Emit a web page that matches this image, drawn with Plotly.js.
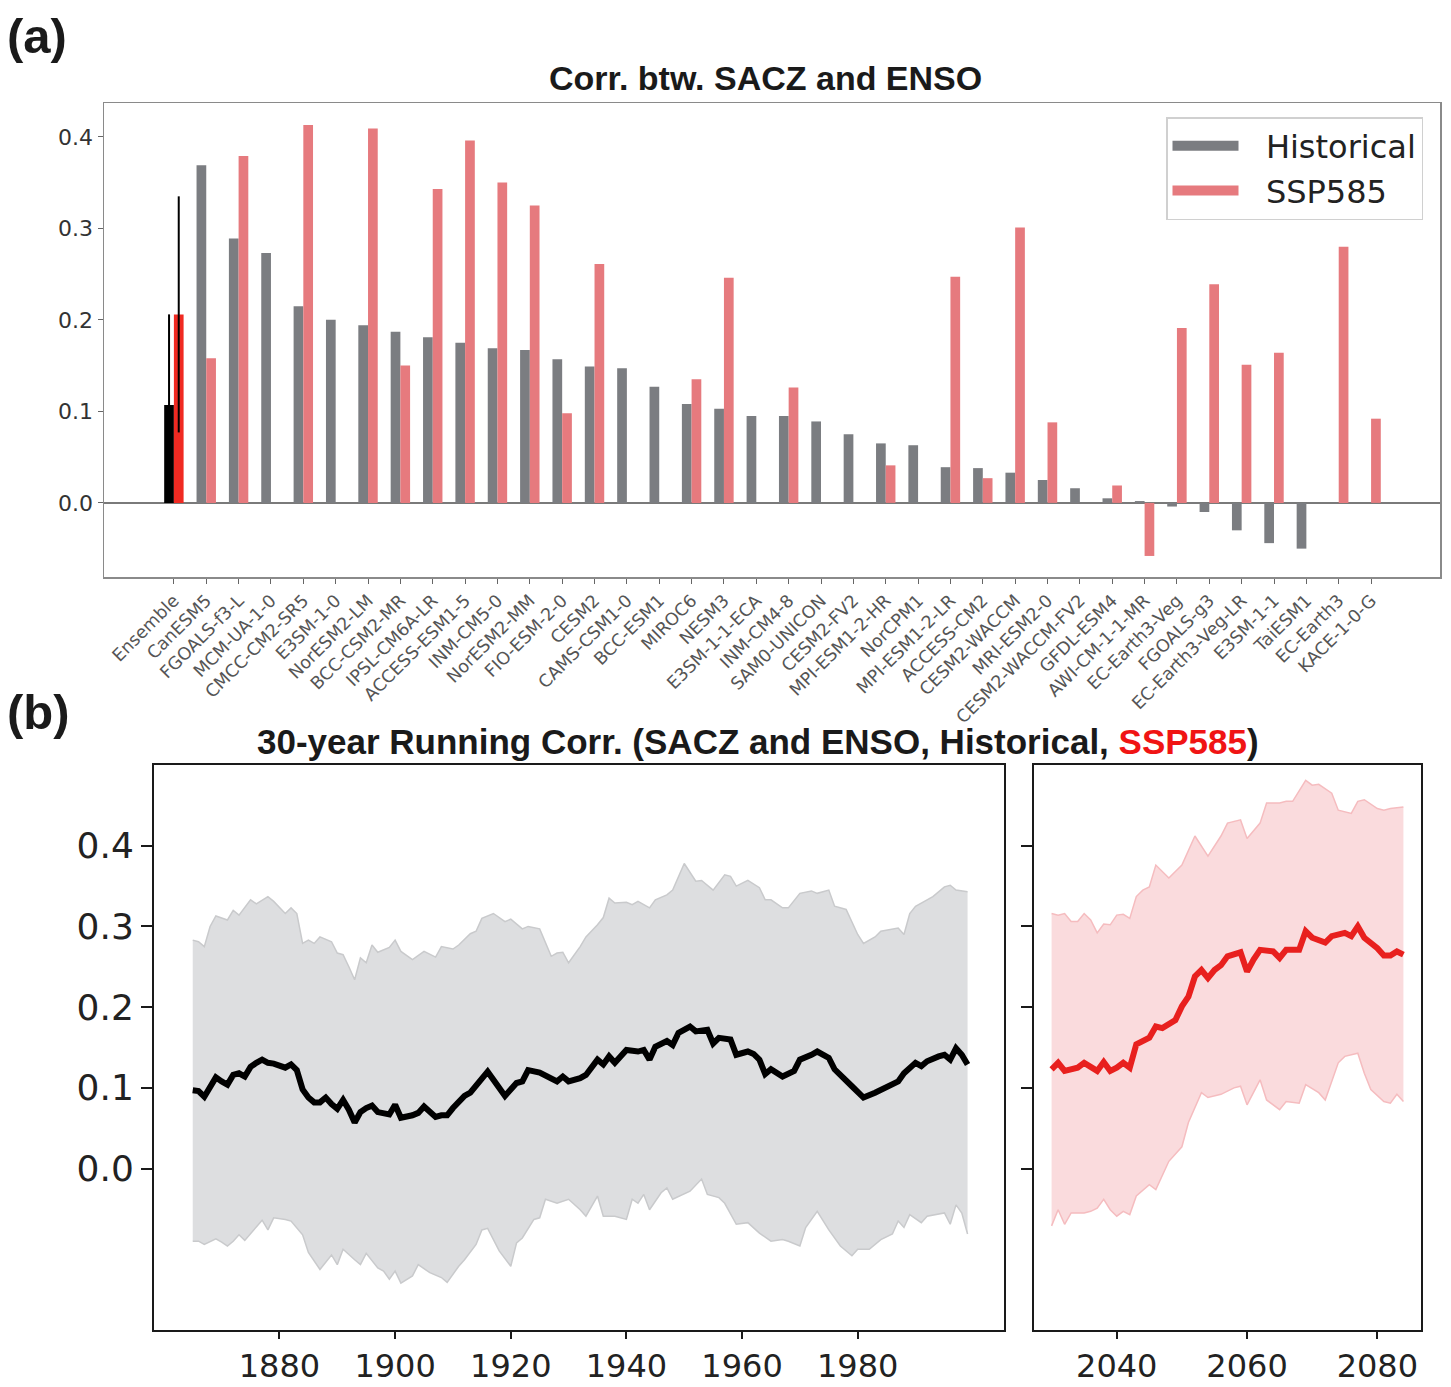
<!DOCTYPE html>
<html>
<head>
<meta charset="utf-8">
<script src="https://cdn.plot.ly/plotly-3.0.1.min.js"></script>
<style>
  html, body { margin: 0; padding: 0; background: #ffffff; }
  #chart { width: 1451px; height: 1387px; }
</style>
</head>
<body>
<div id="chart"></div>
<script>
// ---------------- Panel (a) data ----------------
const models = ["Ensemble","CanESM5","FGOALS-f3-L","MCM-UA-1-0","CMCC-CM2-SR5","E3SM-1-0","NorESM2-LM","BCC-CSM2-MR","IPSL-CM6A-LR","ACCESS-ESM1-5","INM-CM5-0","NorESM2-MM","FIO-ESM-2-0","CESM2","CAMS-CSM1-0","BCC-ESM1","MIROC6","NESM3","E3SM-1-1-ECA","INM-CM4-8","SAM0-UNICON","CESM2-FV2","MPI-ESM1-2-HR","NorCPM1","MPI-ESM1-2-LR","ACCESS-CM2","CESM2-WACCM","MRI-ESM2-0","CESM2-WACCM-FV2","GFDL-ESM4","AWI-CM-1-1-MR","EC-Earth3-Veg","FGOALS-g3","EC-Earth3-Veg-LR","E3SM-1-1","TaiESM1","EC-Earth3","KACE-1-0-G"];
const histCorr = [0.107,0.369,0.289,0.273,0.215,0.200,0.194,0.187,0.181,0.175,0.169,0.167,0.157,0.149,0.147,0.127,0.108,0.103,0.095,0.095,0.089,0.075,0.065,0.063,0.039,0.038,0.033,0.025,0.016,0.005,0.002,-0.004,-0.010,-0.030,-0.044,-0.050,null,null];
const sspCorr = [0.206,0.158,0.379,null,0.413,null,0.409,0.150,0.343,0.396,0.350,0.325,0.098,0.261,null,null,0.135,0.246,null,0.126,null,null,0.041,null,0.247,0.027,0.301,0.088,null,0.019,-0.058,0.191,0.239,0.151,0.164,null,0.280,0.092];
const ensembleHistSpread = 0.099;
const ensembleSspSpread = 0.129;

// ---------------- Panel (b) data ----------------
const histYears = [1865,1866,1867,1868,1869,1870,1871,1872,1873,1874,1875,1876,1877,1878,1879,1881,1882,1883,1884,1885,1886,1887,1888,1889,1890,1891,1892,1893,1894,1895,1896,1897,1898,1899,1900,1901,1903,1904,1905,1906,1907,1908,1909,1910,1911,1912,1913,1915,1916,1917,1919,1921,1922,1923,1925,1928,1929,1930,1932,1933,1935,1936,1937,1938,1940,1942,1943,1944,1945,1947,1948,1949,1951,1952,1954,1955,1956,1958,1959,1961,1962,1963,1964,1965,1967,1969,1970,1972,1973,1975,1976,1979,1981,1983,1985,1987,1988,1990,1991,1992,1994,1995,1996,1997,1998,1999];
const histMean = [0.097,0.096,0.089,0.100,0.113,0.108,0.104,0.116,0.118,0.114,0.126,0.131,0.135,0.131,0.130,0.125,0.129,0.122,0.098,0.088,0.082,0.082,0.088,0.080,0.074,0.085,0.073,0.057,0.070,0.075,0.078,0.070,0.069,0.067,0.079,0.063,0.066,0.069,0.077,0.071,0.064,0.066,0.066,0.075,0.083,0.090,0.094,0.110,0.120,0.110,0.090,0.106,0.108,0.122,0.119,0.108,0.114,0.108,0.112,0.116,0.135,0.129,0.139,0.131,0.147,0.145,0.147,0.135,0.151,0.158,0.153,0.168,0.176,0.170,0.172,0.155,0.162,0.160,0.141,0.145,0.142,0.135,0.117,0.123,0.114,0.121,0.135,0.141,0.145,0.137,0.123,0.102,0.088,0.094,0.102,0.108,0.118,0.131,0.127,0.133,0.139,0.141,0.135,0.149,0.141,0.129];

const histUpperYears = [1865,1866,1867,1868,1869,1871,1872,1873,1875,1876,1878,1879,1881,1882,1883,1884,1885,1886,1887,1889,1890,1891,1892,1893,1894,1895,1896,1897,1899,1900,1901,1903,1905,1907,1908,1910,1911,1913,1914,1915,1917,1919,1920,1922,1923,1925,1927,1928,1929,1930,1932,1933,1935,1936,1937,1938,1940,1941,1942,1944,1945,1947,1948,1950,1952,1953,1955,1957,1958,1959,1961,1963,1964,1965,1967,1968,1970,1972,1973,1975,1976,1978,1980,1981,1983,1984,1987,1988,1989,1990,1992,1993,1995,1996,1997,1999];
const histUpper = [0.283,0.281,0.275,0.300,0.313,0.308,0.320,0.314,0.333,0.328,0.337,0.331,0.316,0.323,0.316,0.279,0.283,0.279,0.287,0.281,0.267,0.265,0.250,0.234,0.261,0.255,0.277,0.268,0.274,0.283,0.269,0.259,0.269,0.262,0.275,0.272,0.277,0.291,0.294,0.310,0.316,0.306,0.309,0.297,0.300,0.297,0.263,0.267,0.268,0.255,0.275,0.287,0.302,0.311,0.335,0.329,0.330,0.327,0.331,0.323,0.333,0.339,0.345,0.378,0.356,0.357,0.345,0.364,0.362,0.350,0.357,0.348,0.333,0.333,0.323,0.323,0.341,0.344,0.341,0.345,0.325,0.321,0.290,0.279,0.287,0.294,0.298,0.290,0.316,0.325,0.333,0.337,0.349,0.351,0.345,0.343];

const histLowerYears = [1865,1866,1867,1869,1870,1871,1872,1873,1874,1876,1877,1878,1879,1881,1882,1884,1885,1887,1889,1890,1891,1893,1894,1895,1897,1898,1899,1900,1901,1903,1904,1906,1908,1909,1911,1912,1914,1915,1916,1918,1920,1921,1922,1924,1925,1926,1928,1930,1932,1933,1935,1936,1938,1940,1941,1942,1943,1944,1946,1947,1948,1951,1953,1954,1956,1957,1959,1961,1963,1965,1967,1968,1970,1971,1973,1975,1977,1979,1980,1982,1984,1986,1987,1988,1989,1991,1992,1995,1996,1997,1998,1999];
const histLower = [-0.090,-0.090,-0.094,-0.087,-0.091,-0.096,-0.090,-0.082,-0.089,-0.073,-0.064,-0.076,-0.061,-0.063,-0.065,-0.082,-0.104,-0.125,-0.107,-0.119,-0.100,-0.113,-0.119,-0.105,-0.123,-0.127,-0.137,-0.127,-0.142,-0.133,-0.119,-0.129,-0.135,-0.141,-0.121,-0.113,-0.094,-0.076,-0.074,-0.102,-0.121,-0.092,-0.086,-0.063,-0.061,-0.038,-0.043,-0.038,-0.051,-0.059,-0.034,-0.059,-0.059,-0.063,-0.038,-0.043,-0.032,-0.051,-0.030,-0.024,-0.038,-0.028,-0.013,-0.032,-0.036,-0.043,-0.069,-0.067,-0.080,-0.090,-0.088,-0.090,-0.096,-0.073,-0.053,-0.076,-0.096,-0.108,-0.100,-0.100,-0.088,-0.081,-0.065,-0.073,-0.057,-0.067,-0.059,-0.055,-0.069,-0.045,-0.055,-0.081];

const sspYears = [2030,2031,2032,2034,2035,2036,2037,2038,2039,2040,2041,2042,2043,2045,2046,2047,2049,2050,2051,2052,2053,2054,2055,2056,2057,2059,2060,2061,2062,2064,2065,2066,2068,2069,2070,2072,2073,2075,2076,2077,2078,2080,2081,2082,2083,2084];
const sspMean = [0.123,0.131,0.121,0.125,0.131,0.127,0.121,0.132,0.121,0.125,0.131,0.125,0.154,0.162,0.176,0.174,0.184,0.201,0.213,0.238,0.246,0.236,0.246,0.252,0.263,0.268,0.244,0.259,0.271,0.269,0.261,0.271,0.271,0.294,0.286,0.280,0.288,0.292,0.288,0.300,0.286,0.273,0.264,0.264,0.269,0.265];

const sspUpperYears = [2030,2031,2032,2033,2034,2035,2036,2037,2038,2039,2040,2041,2042,2043,2044,2045,2046,2048,2050,2051,2052,2054,2056,2057,2059,2060,2062,2063,2065,2066,2067,2069,2070,2071,2073,2074,2076,2077,2078,2080,2081,2082,2084];
const sspUpper = [0.316,0.314,0.316,0.306,0.306,0.316,0.308,0.292,0.303,0.302,0.314,0.315,0.310,0.337,0.345,0.349,0.376,0.360,0.376,0.393,0.412,0.387,0.412,0.428,0.432,0.409,0.428,0.453,0.453,0.455,0.455,0.481,0.475,0.476,0.465,0.444,0.440,0.455,0.457,0.446,0.444,0.446,0.448];

const sspLowerYears = [2030,2031,2032,2033,2035,2036,2037,2038,2039,2040,2041,2042,2043,2045,2046,2048,2050,2051,2053,2054,2056,2058,2059,2060,2062,2063,2065,2066,2068,2069,2071,2072,2074,2075,2077,2078,2079,2081,2082,2083,2084];
const sspLower = [-0.071,-0.051,-0.069,-0.055,-0.055,-0.053,-0.049,-0.038,-0.051,-0.059,-0.053,-0.057,-0.034,-0.020,-0.026,0.009,0.027,0.057,0.094,0.088,0.092,0.100,0.102,0.079,0.110,0.085,0.073,0.083,0.081,0.104,0.094,0.085,0.131,0.139,0.143,0.118,0.098,0.083,0.081,0.092,0.083];

const histTicks = [1880,1900,1920,1940,1960,1980];
const sspTicks = [2040,2060,2080];
const corrTicksA = [0.0,0.1,0.2,0.3,0.4];
const corrTicksB = [0.0,0.1,0.2,0.3,0.4];

// ---------------- Styling ----------------
const W = 1451, H = 1387;
const px = v => v / W;
const py = v => 1 - v / H;

const GRAY = '#7b7d81';
const PINK = '#e67a7e';
const ENS_RED = '#f02a22';

const modelNames = models.slice(1);
const GAP = '\u2002\u2009';

const traces = [
  // Ensemble bars
  {type:'bar', x:[models[0]], y:[histCorr[0]], name:'Ensemble Historical', showlegend:false,
   offset:-0.3, width:0.3, marker:{color:'#000000'},
   error_y:{type:'data', array:[ensembleHistSpread], color:'#000000', thickness:2, width:0},
   xaxis:'x', yaxis:'y'},
  {type:'bar', x:[models[0]], y:[sspCorr[0]], name:'Ensemble SSP585', showlegend:false,
   offset:0, width:0.3, marker:{color:ENS_RED},
   error_y:{type:'data', array:[ensembleSspSpread], color:'#000000', thickness:2, width:0},
   xaxis:'x', yaxis:'y'},
  // Model bars
  {type:'bar', x:modelNames, y:histCorr.slice(1), name:'Historical', legendgroup:'hist', showlegend:false,
   offset:-0.3, width:0.3, marker:{color:GRAY}, xaxis:'x', yaxis:'y'},
  {type:'bar', x:modelNames, y:sspCorr.slice(1), name:'SSP585', legendgroup:'ssp', showlegend:false,
   offset:0, width:0.3, marker:{color:PINK}, xaxis:'x', yaxis:'y'},
  // legend keys (wide swatches)
  {type:'scatter', mode:'lines', x:[null], y:[null], name:GAP + 'Historical', legendgroup:'hist',
   line:{color:GRAY, width:16}, xaxis:'x', yaxis:'y', hoverinfo:'skip'},
  {type:'scatter', mode:'lines', x:[null], y:[null], name:GAP + 'SSP585', legendgroup:'ssp',
   line:{color:PINK, width:16}, xaxis:'x', yaxis:'y', hoverinfo:'skip'},

  // Panel (b) historical
  {type:'scatter', mode:'lines', x:histUpperYears, y:histUpper, name:'Historical max', showlegend:false,
   line:{color:'#c9cacc', width:1.5}, xaxis:'x2', yaxis:'y2'},
  {type:'scatter', mode:'lines', x:histLowerYears, y:histLower, name:'Historical min', showlegend:false,
   line:{color:'#c9cacc', width:1.5}, fill:'tonexty', fillcolor:'#dddee0', xaxis:'x2', yaxis:'y2'},
  {type:'scatter', mode:'lines', x:histYears, y:histMean, name:'Historical mean', showlegend:false,
   line:{color:'#000000', width:6}, xaxis:'x2', yaxis:'y2'},

  // Panel (b) SSP585
  {type:'scatter', mode:'lines', x:sspUpperYears, y:sspUpper, name:'SSP585 max', showlegend:false,
   line:{color:'#f5bcbf', width:1.5}, xaxis:'x3', yaxis:'y3'},
  {type:'scatter', mode:'lines', x:sspLowerYears, y:sspLower, name:'SSP585 min', showlegend:false,
   line:{color:'#f5bcbf', width:1.5}, fill:'tonexty', fillcolor:'#fadbdd', xaxis:'x3', yaxis:'y3'},
  {type:'scatter', mode:'lines', x:sspYears, y:sspMean, name:'SSP585 mean', showlegend:false,
   line:{color:'#e8201e', width:6}, xaxis:'x3', yaxis:'y3'}
];

const tickFontA = {family:'DejaVu Sans, sans-serif', size:22, color:'#333333'};
const tickFontBx = {family:'DejaVu Sans, sans-serif', size:32, color:'#222222'};
const tickFontBy = {family:'DejaVu Sans, sans-serif', size:36, color:'#222222'};

const layout = {
  width: W, height: H,
  margin: {l:0, r:0, t:0, b:0, pad:0},
  paper_bgcolor:'#ffffff', plot_bgcolor:'#ffffff',
  barmode:'overlay',
  showlegend:true,
  legend:{
    x:px(1423), y:py(117), xanchor:'right', yanchor:'top',
    font:{family:'DejaVu Sans, sans-serif', size:32, color:'#222222'},
    bgcolor:'#ffffff', bordercolor:'#d0d0d0', borderwidth:1.5,
    itemwidth:66, tracegroupgap:0
  },
  xaxis:{
    domain:[px(104), px(1440)], anchor:'y',
    type:'category', categoryorder:'array', categoryarray:models,
    range:[-2.16, 39.13],
    showline:true, mirror:true, linecolor:'#8a8a8a', linewidth:1.5,
    ticks:'outside', ticklen:5, tickcolor:'#666666', tickwidth:1,
    tickangle:-45, tickfont:{family:'DejaVu Sans, sans-serif', size:17.5, color:'#555555'},
    showgrid:false, zeroline:false, fixedrange:true
  },
  yaxis:{
    domain:[py(577), py(103)], anchor:'x',
    range:[-0.081, 0.437],
    tickvals:corrTicksA, tickformat:'.1f',
    showline:true, mirror:true, linecolor:'#8a8a8a', linewidth:1.5,
    ticks:'outside', ticklen:5, tickcolor:'#666666', tickwidth:1,
    tickfont:tickFontA, showgrid:false,
    zeroline:true, zerolinecolor:'#7a7a7a', zerolinewidth:2.5, fixedrange:true
  },
  xaxis2:{
    domain:[px(154), px(1004)], anchor:'y2',
    range:[1858.3, 2005.3],
    tickvals:histTicks,
    showline:true, mirror:true, linecolor:'#1a1a1a', linewidth:2,
    ticks:'outside', ticklen:7, tickwidth:2, tickcolor:'#1a1a1a',
    tickfont:tickFontBx, showgrid:false, zeroline:false, fixedrange:true
  },
  yaxis2:{
    domain:[py(1330), py(765)], anchor:'x2',
    range:[-0.2, 0.5],
    tickvals:corrTicksB, tickformat:'.1f',
    showline:true, mirror:true, linecolor:'#1a1a1a', linewidth:2,
    ticks:'outside', ticklen:11, tickwidth:2, tickcolor:'#1a1a1a',
    tickfont:tickFontBy, showgrid:false, zeroline:false, fixedrange:true
  },
  xaxis3:{
    domain:[px(1034), px(1421)], anchor:'y3',
    range:[2027.3, 2086.7],
    tickvals:sspTicks,
    showline:true, mirror:true, linecolor:'#1a1a1a', linewidth:2,
    ticks:'outside', ticklen:7, tickwidth:2, tickcolor:'#1a1a1a',
    tickfont:tickFontBx, showgrid:false, zeroline:false, fixedrange:true
  },
  yaxis3:{
    domain:[py(1330), py(765)], anchor:'x3',
    range:[-0.2, 0.5],
    tickvals:corrTicksB, showticklabels:false,
    showline:true, mirror:true, linecolor:'#1a1a1a', linewidth:2,
    ticks:'outside', ticklen:11, tickwidth:2, tickcolor:'#1a1a1a',
    showgrid:false, zeroline:false, fixedrange:true
  },
  annotations:[
    {text:'<b>(a)</b>', xref:'paper', yref:'paper', x:px(5), y:py(36), xanchor:'left', yanchor:'middle',
     showarrow:false, font:{family:'Liberation Sans, Arial, sans-serif', size:49, color:'#1a1a1a'}},
    {text:'<b>Corr. btw. SACZ and ENSO</b>', xref:'paper', yref:'paper', x:px(766), y:py(78), xanchor:'center', yanchor:'middle',
     showarrow:false, font:{family:'Liberation Sans, Arial, sans-serif', size:34, color:'#1a1a1a'}},
    {text:'<b>(b)</b>', xref:'paper', yref:'paper', x:px(5), y:py(712), xanchor:'left', yanchor:'middle',
     showarrow:false, font:{family:'Liberation Sans, Arial, sans-serif', size:49, color:'#1a1a1a'}},
    {text:'<b>30-year Running Corr. (SACZ and ENSO, Historical, <span style="color:#f01414">SSP585</span>)</b>',
     xref:'paper', yref:'paper', x:px(758), y:py(741), xanchor:'center', yanchor:'middle',
     showarrow:false, font:{family:'Liberation Sans, Arial, sans-serif', size:35, color:'#1a1a1a'}}
  ]
};

Plotly.newPlot('chart', traces, layout, {displayModeBar:false, staticPlot:true});
</script>
</body>
</html>
